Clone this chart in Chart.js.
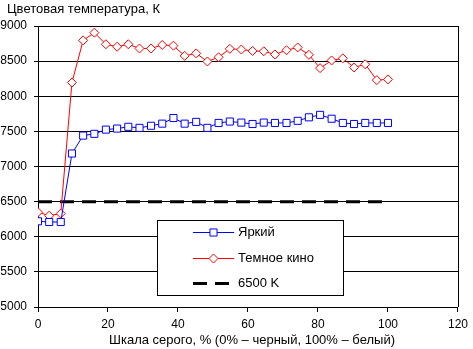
<!DOCTYPE html>
<html>
<head>
<meta charset="utf-8">
<script src="https://cdn.jsdelivr.net/npm/chart.js@4.4.1/dist/chart.umd.min.js"></script>
<style>
  html, body { margin: 0; padding: 0; background: #fff; }
  canvas { display: block; }
</style>
</head>
<body>
<canvas id="chart" width="473" height="349"></canvas>
<script>
// gray levels, % (0% - black, 100% - white)
const grayLevels = [0, 3.2, 6.5, 9.7, 12.9, 16.1, 19.4, 22.6, 25.8, 29.0, 32.3, 35.5, 38.7, 41.9, 45.2, 48.4,
    51.6, 54.8, 58.1, 61.3, 64.5, 67.7, 71.0, 74.2, 77.4, 80.6, 83.9, 87.1, 90.3, 93.5, 96.8, 100];

const brightTemps = [6220, 6210, 6210, 7185, 7440, 7465, 7525, 7540, 7565, 7550, 7580, 7610, 7690, 7610, 7635, 7550,
    7620, 7640, 7625, 7605, 7625, 7620, 7620, 7650, 7700, 7735, 7680, 7620, 7605, 7620, 7620, 7620];

const darkCinemaTemps = [6350, 6300, 6330, 8195, 8795, 8905, 8740, 8705, 8740, 8680, 8680, 8730, 8720, 8575, 8610, 8495,
    8555, 8675, 8665, 8645, 8640, 8595, 8655, 8695, 8590, 8400, 8510, 8540, 8410, 8455, 8230, 8240];

const refX = [0, 100];
const refTemps = [6500, 6500];

const seriesNames = ["Яркий", "Темное кино", "6500 K"];
const chartTitle = "Цветовая температура, К";
const xAxisTitle = "Шкала серого, % (0% – черный, 100% – белый)";

const FONT = "Arial, 'Liberation Sans', sans-serif";

const toPoints = (xs, ys) => xs.map((x, i) => ({ x: x, y: ys[i] }));

// legend box, titles and right frame drawn by hand
const decorPlugin = {
    id: "decor",
    afterDraw(chart) {
        const ctx = chart.ctx;
        const area = chart.chartArea;
        ctx.save();

        // right frame line
        ctx.strokeStyle = "#000";
        ctx.lineWidth = 1;
        ctx.beginPath();
        ctx.moveTo(Math.round(area.right) + 0.5, area.top);
        ctx.lineTo(Math.round(area.right) + 0.5, area.bottom);
        ctx.stroke();

        // titles
        ctx.fillStyle = "#000";
        ctx.font = "13px " + FONT;
        ctx.textBaseline = "middle";
        ctx.textAlign = "left";
        ctx.fillText(chartTitle, 7, 9);
        ctx.textAlign = "center";
        ctx.fillText(xAxisTitle, 252, 340);

        // legend
        const box = { left: 157.5, top: 220.5, width: 186, height: 75 };
        ctx.fillStyle = "#fff";
        ctx.fillRect(box.left, box.top, box.width, box.height);
        ctx.strokeStyle = "#000";
        ctx.lineWidth = 1;
        ctx.strokeRect(box.left, box.top, box.width, box.height);

        const rows = [232, 258, 283];
        chart.data.datasets.forEach((ds, i) => {
            const y = rows[i];
            ctx.save();
            ctx.strokeStyle = ds.borderColor;
            ctx.lineWidth = ds.borderWidth;
            ctx.setLineDash(ds.borderDash || []);
            ctx.beginPath();
            ctx.moveTo(193, y + 0.5);
            ctx.lineTo(234, y + 0.5);
            ctx.stroke();
            ctx.restore();
            if (ds.pointRadius > 0) {
                ctx.save();
                ctx.fillStyle = ds.pointBackgroundColor;
                ctx.strokeStyle = ds.borderColor;
                ctx.lineWidth = 1;
                Chart.helpers.drawPoint(ctx, { pointStyle: ds.pointStyle, radius: ds.pointRadius, borderWidth: 1 }, 213.5, y + 0.5);
                ctx.restore();
            }
            ctx.fillStyle = "#000";
            ctx.font = "13px " + FONT;
            ctx.textAlign = "left";
            ctx.textBaseline = "middle";
            ctx.fillText(ds.label, 238, y);
        });

        ctx.restore();
    }
};

new Chart(document.getElementById("chart"), {
    type: "line",
    data: {
        datasets: [
            {
                label: seriesNames[0],
                data: toPoints(grayLevels, brightTemps),
                borderColor: "#0000ff",
                borderWidth: 1,
                pointStyle: "rect",
                pointRadius: 5,
                pointBorderWidth: 1,
                pointBackgroundColor: "#ffffff",
                pointBorderColor: "#0000ff",
                tension: 0,
                order: 1
            },
            {
                label: seriesNames[1],
                data: toPoints(grayLevels, darkCinemaTemps),
                borderColor: "#ff0000",
                borderWidth: 1,
                pointStyle: "rectRot",
                pointRadius: 4.5,
                pointBorderWidth: 1,
                pointBackgroundColor: "#ffffff",
                pointBorderColor: "#ff0000",
                tension: 0,
                order: 2
            },
            {
                label: seriesNames[2],
                data: toPoints(refX, refTemps),
                borderColor: "#000000",
                borderWidth: 3,
                borderDash: [14, 8],
                pointRadius: 0,
                tension: 0,
                order: 3
            }
        ]
    },
    options: {
        responsive: false,
        animation: false,
        devicePixelRatio: 1,
        layout: { padding: { top: 26, left: 0, right: 10, bottom: 0 } },
        plugins: {
            legend: { display: false },
            title: { display: false },
            tooltip: { enabled: false }
        },
        scales: {
            x: {
                type: "linear",
                min: 0,
                max: 120,
                afterFit: (scale) => { scale.height = 42; },
                ticks: {
                    stepSize: 20,
                    color: "#000",
                    font: { family: FONT, size: 12 },
                    padding: 5,
                    maxRotation: 0
                },
                grid: {
                    drawOnChartArea: false,
                    drawTicks: true,
                    tickLength: 5,
                    color: "#000"
                },
                border: { color: "#000", width: 1 }
            },
            y: {
                min: 5000,
                max: 9000,
                afterFit: (scale) => { scale.width = 38; },
                ticks: {
                    stepSize: 500,
                    color: "#000",
                    font: { family: FONT, size: 12 },
                    padding: 7,
                    callback: (v) => String(v)
                },
                grid: {
                    color: "#000",
                    lineWidth: 1,
                    drawTicks: true,
                    tickLength: 4
                },
                border: { color: "#000", width: 1 }
            }
        }
    },
    plugins: [decorPlugin]
});
</script>
</body>
</html>
